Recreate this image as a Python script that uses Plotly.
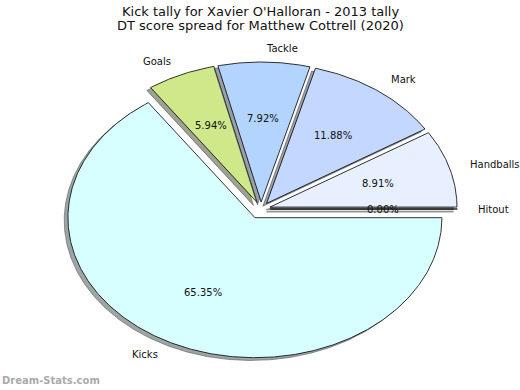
import numpy as np
import plotly.graph_objects as go

# Data (drawn clockwise from 3 o'clock, matplotlib-style)
categories = ["Kicks", "Goals", "Tackle", "Mark", "Handballs", "Hitout"]
values = [66, 6, 8, 12, 9, 0]
colors = ["#d8ffff", "#cfe98a", "#b2d4ff", "#c4d8ff", "#e8f0ff", "#f0f0ff"]
explode = [0.07, 0.05, 0.05, 0.05, 0.05, 0.05]
title_lines = ["Kick tally for Xavier O'Halloran - 2013 tally",
               "DT score spread for Matthew Cottrell (2020)"]
watermark = "Dream-Stats.com"

W, H = 520, 390
cx_px, cy_px = 261, 209
rx_px, ry_px = 187, 140
FONT = "DejaVu Sans"

total = float(sum(values))
fig = go.Figure()
annotations = []


def hex_rgb(h):
    h = h.lstrip("#")
    return tuple(int(h[i:i + 2], 16) for i in (0, 2, 4))


theta = 0.0  # degrees, clockwise
for cat, val, col, ex in zip(categories, values, colors, explode):
    span = 360.0 * val / total
    t1, t2 = theta, theta - span
    mid = np.radians((t1 + t2) / 2.0)
    ox, oy = ex * np.cos(mid), ex * np.sin(mid)
    n = max(2, int(abs(span) * 2) + 2)
    ts = np.radians(np.linspace(t1, t2, n))
    xs = np.concatenate([[ox], ox + np.cos(ts), [ox]])
    ys = np.concatenate([[oy], oy + np.sin(ts), [oy]])
    r, g, b = hex_rgb(col)
    shadow = f"rgba({int(r*0.3)},{int(g*0.3)},{int(b*0.3)},0.5)"
    fig.add_trace(go.Scatter(x=xs - 0.02, y=ys - 0.02, mode="lines", fill="toself",
                             fillcolor=shadow, line=dict(color=shadow, width=1),
                             hoverinfo="skip", showlegend=False))
    fig.add_trace(go.Scatter(x=xs, y=ys, mode="lines", fill="toself",
                             fillcolor=col, line=dict(color="black", width=0.8),
                             name=cat, hoverinfo="name", showlegend=False))
    lx, ly = ox + 1.1 * np.cos(mid), oy + 1.1 * np.sin(mid)
    annotations.append(dict(x=lx, y=ly, xref="x", yref="y", text=cat, showarrow=False,
                            xanchor="left" if lx > 0 else "right", yanchor="middle",
                            font=dict(family=FONT, size=10, color="#111")))
    px_, py_ = ox + 0.6 * np.cos(mid), oy + 0.6 * np.sin(mid)
    annotations.append(dict(x=px_, y=py_, xref="x", yref="y",
                            text=f"{100*val/total:.2f}%", showarrow=False,
                            xanchor="center", yanchor="middle",
                            font=dict(family=FONT, size=10, color="#111")))
    theta = t2

annotations.append(dict(x=0.5, y=1 - 11 / H, xref="paper", yref="paper", text=title_lines[0],
                        showarrow=False, xanchor="center", yanchor="middle",
                        font=dict(family=FONT, size=13, color="#111")))
annotations.append(dict(x=0.5, y=1 - 26 / H, xref="paper", yref="paper", text=title_lines[1],
                        showarrow=False, xanchor="center", yanchor="middle",
                        font=dict(family=FONT, size=13, color="#111")))
annotations.append(dict(x=0, y=1 - 380 / H, xref="paper", yref="paper", text=f"<b>{watermark}</b>",
                        showarrow=False, xanchor="left", yanchor="middle",
                        font=dict(family=FONT, size=10, color="#aaaaaa")))

fig.update_layout(
    width=W, height=H, margin=dict(l=0, r=0, t=0, b=0),
    paper_bgcolor="white", plot_bgcolor="white",
    xaxis=dict(range=[-cx_px / rx_px, (W - cx_px) / rx_px], visible=False, fixedrange=True),
    yaxis=dict(range=[-(H - cy_px) / ry_px, cy_px / ry_px], visible=False, fixedrange=True),
    annotations=annotations,
)
fig.write_html("out.html", config={"displayModeBar": False},
               post_script="document.body.style.margin='0';document.body.style.overflow='hidden';")
